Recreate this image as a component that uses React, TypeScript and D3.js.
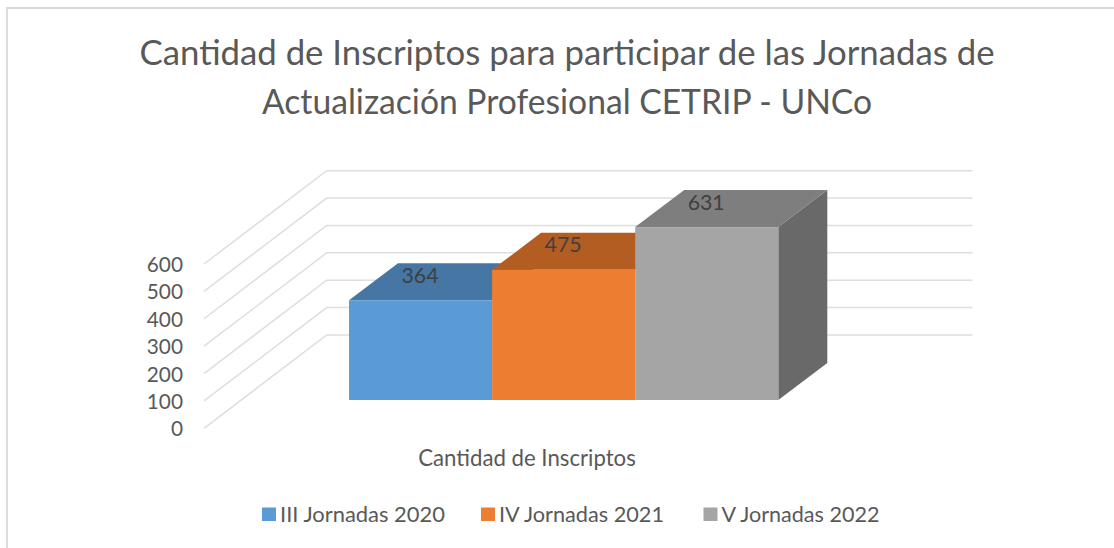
import React from "react";
import * as d3 from "d3";

const titleLines = [
  "Cantidad de Inscriptos para participar de las Jornadas de",
  "Actualización Profesional CETRIP - UNCo",
];
const categoryLabel = "Cantidad de Inscriptos";
const seriesNames = ["III Jornadas 2020", "IV Jornadas 2021", "V Jornadas 2022"];
const seriesValues = [364, 475, 631];
const frontColors = ["#5B9BD5", "#ED7D31", "#A5A5A5"];
const topColors = ["#4676A3", "#B35D22", "#7E7E7E"];
const axisTicks = [0, 100, 200, 300, 400, 500, 600];

const textColor = "#595959";
const fontFamily = "Lato, Carlito, sans-serif";

// Floor-plane projection: offset from the front of the floor to the back wall
const wallDx = 122.7;
const wallDy = -93.3;
const barDepthDx = 49;
const barDepthDy = -37;

// Scale on the front edge of the bars
const yBar = d3.scaleLinear().domain([0, 600]).range([400, 235.6]);
// Scale on the front edge of the floor (start of the side-wall lines)
const yFront = d3.scaleLinear().domain([0, 600]).range([428.3, 264]);
const xBars = d3.scaleBand<string>().domain(seriesNames).range([349, 778.3]);

const poly = (pts: [number, number][]) => pts.map((p) => p.join(",")).join(" ");

export default function App() {
  const xFloorFront = 204;
  const xWall = xFloorFront + wallDx;
  const xWallEnd = 972.5;
  const bw = xBars.bandwidth();
  const y0 = yBar(0);
  const lastIdx = seriesNames.length - 1;
  const legendX = [262, 481, 703.5];
  const legendTextLen = [165, 165, 158];
  const titleLen = [855, 610];

  return (
    <svg
      width={1114}
      height={548}
      viewBox="0 0 1114 548"
      style={{ position: "absolute", left: 0, top: 0, background: "#fff" }}
      fontFamily={fontFamily}
    >
      <path d="M7 548V8H1114" fill="none" stroke="#D9D9D9" strokeWidth={1.8} />

      {titleLines.map((t, i) => (
        <text
          key={t}
          x={567}
          y={65 + i * 49}
          textAnchor="middle"
          fontSize={34.8}
          fill={textColor}
          textLength={titleLen[i]}
          lengthAdjust="spacingAndGlyphs"
        >
          {t}
        </text>
      ))}

      {axisTicks.map((t) => (
        <polyline
          key={t}
          points={poly([
            [xFloorFront, yFront(t)],
            [xWall, yFront(t) + wallDy],
            [xWallEnd, yFront(t) + wallDy],
          ])}
          fill="none"
          stroke="#DEDEDE"
          strokeWidth={1.5}
        />
      ))}

      {axisTicks.map((t) => (
        <text key={t} x={183} y={yFront(t) + 8} textAnchor="end" fontSize={20.8} fill={textColor}>
          {t}
        </text>
      ))}

      {seriesNames.map((name, i) => {
        const x = xBars(name) as number;
        const yTop = yBar(seriesValues[i]);
        return (
          <g key={name}>
            {i === lastIdx && (
              <polygon
                points={poly([
                  [x + bw, yTop],
                  [x + bw + barDepthDx, yTop + barDepthDy],
                  [x + bw + barDepthDx, y0 + barDepthDy],
                  [x + bw, y0],
                ])}
                fill="#696969"
              />
            )}
            <polygon
              points={poly([
                [x, yTop],
                [x + barDepthDx, yTop + barDepthDy],
                [x + bw + barDepthDx, yTop + barDepthDy],
                [x + bw, yTop],
              ])}
              fill={topColors[i]}
            />
          </g>
        );
      })}
      {seriesNames.map((name, i) => {
        const x = xBars(name) as number;
        const yTop = yBar(seriesValues[i]);
        return <rect key={name} x={x} y={yTop} width={bw} height={y0 - yTop} fill={frontColors[i]} />;
      })}

      {seriesNames.map((name, i) => {
        const x = xBars(name) as number;
        const yTop = yBar(seriesValues[i]);
        return (
          <text
            key={name}
            x={x + 71}
            y={yTop + barDepthDy + 19.5}
            textAnchor="middle"
            fontSize={21.3}
            fill="#404040"
          >
            {seriesValues[i]}
          </text>
        );
      })}

      <text x={527} y={466} textAnchor="middle" fontSize={22.2} fill={textColor}>
        {categoryLabel}
      </text>

      {seriesNames.map((name, i) => (
        <g key={name}>
          <rect x={legendX[i]} y={507.5} width={14} height={13.5} fill={frontColors[i]} />
          <text
            x={legendX[i] + 18}
            y={521.5}
            fontSize={22}
            fill={textColor}
            textLength={legendTextLen[i]}
            lengthAdjust="spacingAndGlyphs"
          >
            {name}
          </text>
        </g>
      ))}
    </svg>
  );
}
